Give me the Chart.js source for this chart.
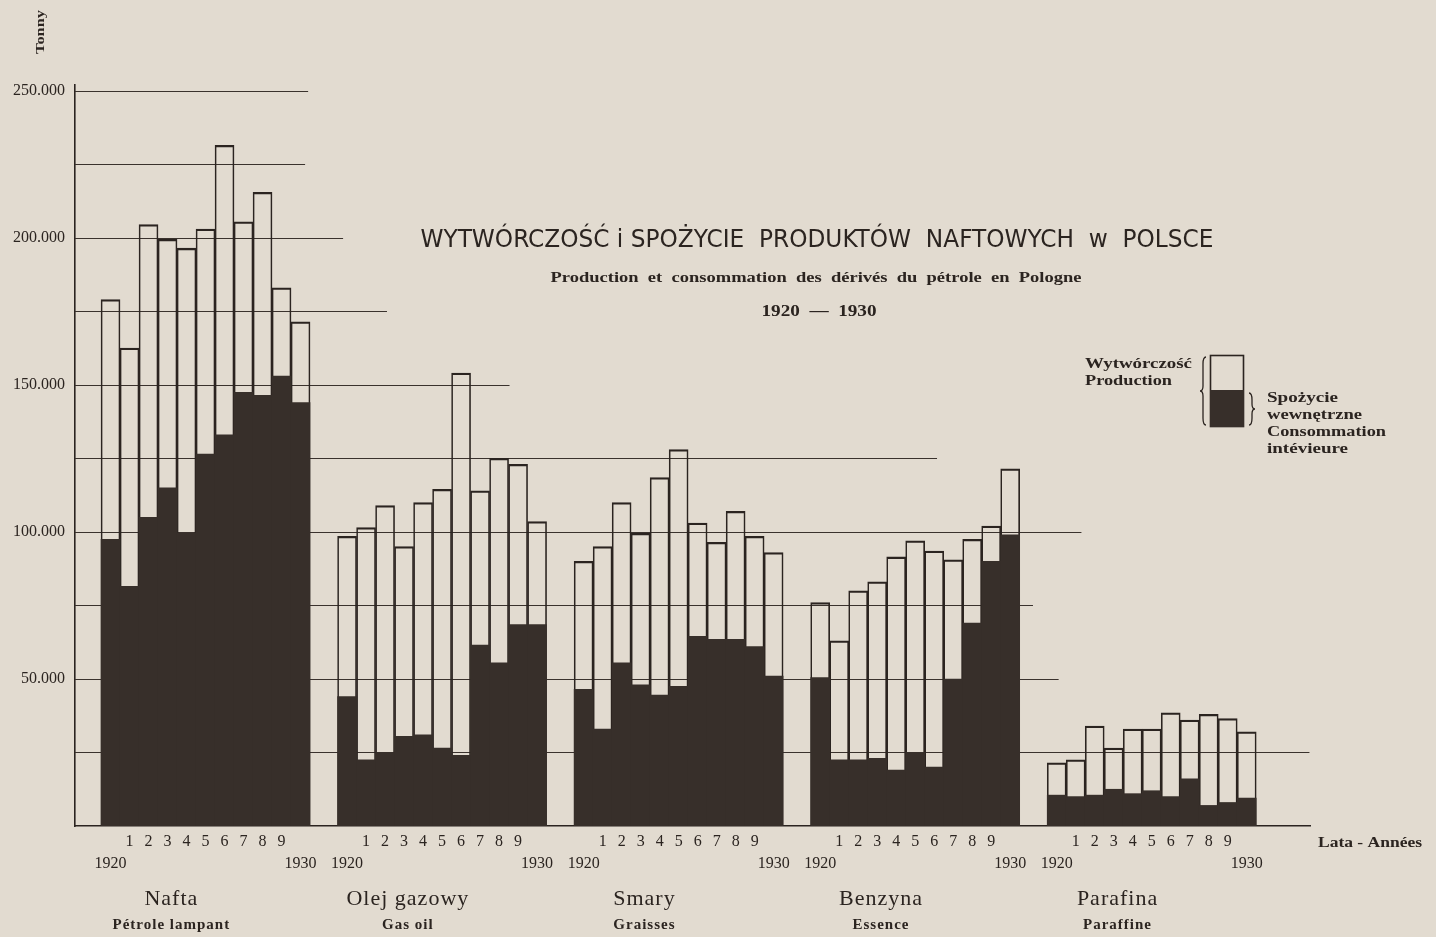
<!DOCTYPE html>
<html>
<head>
<meta charset="utf-8">
<title>Wytwórczość i spożycie produktów naftowych w Polsce 1920-1930</title>
<script src="https://cdn.jsdelivr.net/npm/chart.js@4.4.0/dist/chart.umd.min.js"></script>
<style>
  html, body { margin: 0; padding: 0; background: #e2dbd0; }
  #wrap { width: 1436px; height: 937px; position: relative; }
</style>
</head>
<body>
<div id="wrap"><canvas id="oilChart"></canvas></div>
<script>
// years on the x axis, products as groups
const years = ['1920', '1921', '1922', '1923', '1924', '1925', '1926', '1927', '1928', '1929', '1930'];
const products = ['Nafta', 'Olej gazowy', 'Smary', 'Benzyna', 'Parafina'];
const productsFr = ['Pétrole lampant', 'Gas oil', 'Graisses', 'Essence', 'Paraffine'];

// thousands of tonnes
const naftaProd    = [179, 162.5, 204.5, 199.5, 196.5, 203, 231.5, 205.5, 215.5, 183, 171.5];
const naftaCons    = [97.5, 81.5, 105, 115, 99.5, 126.5, 133, 147.5, 146.5, 153, 144];
const olejProd     = [98.5, 101.5, 109, 95, 110, 114.5, 154, 114, 125, 123, 103.5];
const olejCons     = [44, 22.5, 25, 30.5, 31, 26.5, 24, 61.5, 55.5, 68.5, 68.5];
const smaryProd    = [90, 95, 110, 99.5, 118.5, 128, 103, 96.5, 107, 98.5, 93];
const smaryCons    = [46.5, 33, 55.5, 48, 44.5, 47.5, 64.5, 63.5, 63.5, 61, 51];
const benzynaProd  = [76, 63, 80, 83, 91.5, 97, 93.5, 90.5, 97.5, 102, 121.5];
const benzynaCons  = [50.5, 22.5, 22.5, 23, 19, 25, 20, 50, 69, 90, 99];
const parafinaProd = [21.5, 22.5, 34, 26.5, 33, 33, 38.5, 36, 38, 36.5, 32];
const parafinaCons = [10.5, 10, 10.5, 12.5, 11, 12, 10, 16, 7, 8, 9.5];

const yTickValues = [50000, 100000, 150000, 200000, 250000];
const gridLevels = [25000, 50000, 75000, 100000, 125000, 150000, 175000, 200000, 225000, 250000];

// layout bits
const groupStep = 12.45;        // x units between group starts (1 unit = one bar)
const labelOffset = 3.2;        // where the product name sits inside a group
const gridReach = [63.1, 49.9, 48.55, 51.1, 43.5, 21.0, 14.55, 12.24, 10.24, 10.4];
const ink = '#2b2420';
const fill = '#372f2a';

const prodSeries = [naftaProd, olejProd, smaryProd, benzynaProd, parafinaProd];
const consSeries = [naftaCons, olejCons, smaryCons, benzynaCons, parafinaCons];

const prodPoints = [];
const consPoints = [];
const barX = [];
prodSeries.forEach((arr, g) => {
  arr.forEach((v, i) => {
    const x = g * groupStep + i;
    barX.push(x);
    prodPoints.push({ x: x, y: v * 1000 });
    consPoints.push({ x: x, y: consSeries[g][i] * 1000 });
  });
});

function fitText(ctx, text, x, y, width, align) {
  const w = ctx.measureText(text).width;
  ctx.save();
  ctx.translate(x, y);
  ctx.scale(width / w, 1);
  ctx.textAlign = align;
  ctx.fillText(text, 0, 0);
  ctx.restore();
}

function brace(ctx, x, y1, y2, w) {
  const m = (y1 + y2) / 2;
  ctx.beginPath();
  ctx.moveTo(x + w, y1);
  ctx.quadraticCurveTo(x, y1, x, y1 + 7);
  ctx.lineTo(x, m - 5);
  ctx.quadraticCurveTo(x, m, x - w, m);
  ctx.quadraticCurveTo(x, m, x, m + 5);
  ctx.lineTo(x, y2 - 7);
  ctx.quadraticCurveTo(x, y2, x + w, y2);
  ctx.stroke();
}

const paperDecor = {
  id: 'paperDecor',
  beforeDatasetsDraw(chart) {
    const ctx = chart.ctx, xs = chart.scales.x, ys = chart.scales.y;
    ctx.save();
    ctx.strokeStyle = '#3a322d';
    ctx.lineWidth = 1.2;
    gridLevels.forEach((lv, k) => {
      const y = Math.round(ys.getPixelForValue(lv)) + 0.5;
      ctx.beginPath();
      ctx.moveTo(chart.chartArea.left, y);
      ctx.lineTo(xs.getPixelForValue(gridReach[k]), y);
      ctx.stroke();
    });
    ctx.restore();
  },
  afterDraw(chart) {
    const ctx = chart.ctx, xs = chart.scales.x;
    ctx.save();
    ctx.fillStyle = ink;
    ctx.strokeStyle = ink;
    ctx.textBaseline = 'middle';

    // titles
    ctx.font = '25px "Liberation Sans Narrow", "DejaVu Sans Condensed", "Liberation Sans", sans-serif';
    fitText(ctx, 'WYTWÓRCZOŚĆ i SPOŻYCIE  PRODUKTÓW  NAFTOWYCH  w  POLSCE', 817, 240, 793, 'center');
    ctx.font = 'bold 15px "Liberation Serif", serif';
    fitText(ctx, 'Production  et  consommation  des  dérivés  du  pétrole  en  Pologne', 816, 278, 531, 'center');
    ctx.font = 'bold 17px "Liberation Serif", serif';
    fitText(ctx, '1920  —  1930', 819, 312, 115, 'center');

    // product names under each group
    products.forEach((name, g) => {
      const cx = xs.getPixelForValue(g * groupStep + labelOffset);
      ctx.font = '22px "Liberation Serif", serif';
      ctx.letterSpacing = '1px';
      ctx.textAlign = 'center';
      ctx.fillText(name, cx, 899);
      ctx.font = 'bold 15px "Liberation Serif", serif';
      ctx.letterSpacing = '1px';
      ctx.fillText(productsFr[g], cx, 925);
    });
    ctx.letterSpacing = '0px';

    // axis captions
    ctx.font = 'bold 14px "Liberation Serif", serif';
    fitText(ctx, 'Lata - Années', 1422, 843, 104, 'right');
    ctx.save();
    ctx.translate(41, 32);
    ctx.rotate(-Math.PI / 2);
    ctx.font = 'bold 13px "Liberation Serif", serif';
    fitText(ctx, 'Tonny', 0, 0, 44, 'center');
    ctx.restore();

    // legend
    ctx.lineWidth = 1.6;
    ctx.strokeRect(1210.5, 355.5, 33, 71);
    ctx.fillStyle = fill;
    ctx.fillRect(1210, 390, 34, 37);
    ctx.fillStyle = ink;
    ctx.lineWidth = 1.3;
    brace(ctx, 1203, 357, 425, 3);
    brace(ctx, 1252, 393, 425, -3);
    ctx.font = 'bold 14px "Liberation Serif", serif';
    fitText(ctx, 'Wytwórczość', 1085, 364, 107, 'left');
    fitText(ctx, 'Production', 1085, 381, 87, 'left');
    fitText(ctx, 'Spożycie', 1267, 398, 71, 'left');
    fitText(ctx, 'wewnętrzne', 1267, 415, 95, 'left');
    fitText(ctx, 'Consommation', 1267, 432, 119, 'left');
    fitText(ctx, 'intévieure', 1267, 449, 81, 'left');
    ctx.restore();
  }
};

const ctx = document.getElementById('oilChart').getContext('2d');

const oilChart = new Chart(ctx, {
  type: 'bar',
  data: {
    datasets: [{
      label: 'Spożycie wewnętrzne',
      data: consPoints,
      backgroundColor: fill,
      borderWidth: 0,
      order: 0
    }, {
      label: 'Wytwórczość',
      data: prodPoints,
      backgroundColor: 'rgba(0,0,0,0)',
      borderColor: ink,
      borderWidth: { top: 1.6, left: 1, right: 1, bottom: 0 },
      order: 1
    }]
  },
  options: {
    responsive: true,
    maintainAspectRatio: false,
    animation: false,
    grouped: false,
    barPercentage: 1,
    categoryPercentage: 1,
    layout: { padding: { top: 85, right: 126, bottom: 0, left: 0 } },
    plugins: {
      legend: { display: false },
      tooltip: { enabled: false }
    },
    scales: {
      x: {
        type: 'linear',
        offset: false,
        min: -1.87,
        max: 63.13,
        grid: { display: false, drawTicks: false },
        border: { display: true, color: ink, width: 1.5 },
        afterBuildTicks: (s) => { s.ticks = barX.map(v => ({ value: v })); },
        afterFit: (s) => { s.height = 111; },
        ticks: {
          autoSkip: false,
          maxRotation: 0,
          padding: 5,
          color: ink,
          font: { family: '"Liberation Serif", serif', size: 16, lineHeight: 1.375 },
          callback: (v, idx) => {
            const i = idx % years.length;
            if (i === 0 || i === years.length - 1) return ['', years[i]];
            return [years[i].slice(-1), ''];
          }
        }
      },
      y: {
        min: 0,
        max: 252000,
        grid: { display: false, drawTicks: false },
        border: { display: true, color: ink, width: 1.6 },
        afterBuildTicks: (s) => { s.ticks = yTickValues.map(v => ({ value: v })); },
        afterFit: (s) => { s.width = 75; },
        ticks: {
          padding: 10,
          color: ink,
          font: { family: '"Liberation Serif", serif', size: 16 },
          callback: (v) => (v / 1000) + '.000'
        }
      }
    }
  },
  plugins: [paperDecor]
});
</script>
</body>
</html>
